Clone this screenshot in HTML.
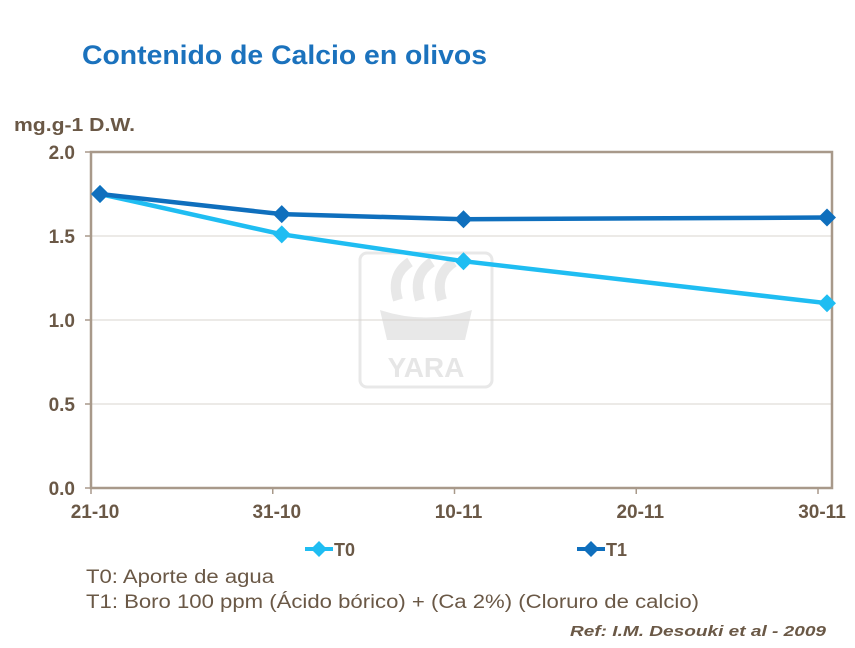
<!DOCTYPE html>
<html><head><meta charset="utf-8"><style>
body{margin:0;width:855px;height:643px;background:#fff;overflow:hidden;font-family:"Liberation Sans",sans-serif;}
</style></head><body>
<svg width="855" height="643">
<text x="82" y="64" font-size="27" font-weight="bold" fill="#1b72bd" textLength="405" lengthAdjust="spacingAndGlyphs">Contenido de Calcio en olivos</text>
<text x="14" y="131" font-size="18" font-weight="bold" fill="#6a5846" textLength="121" lengthAdjust="spacingAndGlyphs">mg.g-1 D.W.</text>
<g opacity="0.9">
<rect x="360" y="253" width="132" height="134" rx="7" fill="none" stroke="#e6e6e6" stroke-width="3"/>
<text x="426" y="377" font-size="28" font-weight="bold" fill="#e4e4e4" text-anchor="middle">YARA</text>
<path d="M380 310 Q426 325 472 310 L465 340 L387 340 Z" fill="#e6e6e6"/>
<path d="M398 300 Q390 275 410 262 M420 300 Q412 275 432 262 M442 300 Q434 275 454 262" stroke="#e6e6e6" stroke-width="10" fill="none"/>
</g>
<g id="grid"></g>
<rect x="91" y="152" width="741" height="336" fill="none" stroke="#a8998a" stroke-width="2.5"/>
<g id="axes"></g>
<g id="series"></g>
<g>
<line x1="305" y1="549" x2="333" y2="549" stroke="#1fbdf2" stroke-width="4"/>
<path d="M319 541 L327 549 L319 557 L311 549 Z" fill="#1fbdf2"/>
<text x="334" y="556" font-size="18" font-weight="bold" fill="#6a5846">T0</text>
<line x1="577" y1="549" x2="605" y2="549" stroke="#0f6fbd" stroke-width="4"/>
<path d="M591 541 L599 549 L591 557 L583 549 Z" fill="#0f6fbd"/>
<text x="606" y="556" font-size="18" font-weight="bold" fill="#6a5846">T1</text>
</g>
<text x="86" y="583" font-size="19" fill="#6a5846" textLength="188" lengthAdjust="spacingAndGlyphs">T0: Aporte de agua</text>
<text x="86" y="608" font-size="19" fill="#6a5846" textLength="613" lengthAdjust="spacingAndGlyphs">T1: Boro 100 ppm (Ácido bórico) + (Ca 2%) (Cloruro de calcio)</text>
<text x="826" y="636" font-size="15" font-weight="bold" font-style="italic" fill="#6a5846" text-anchor="end" textLength="256" lengthAdjust="spacingAndGlyphs">Ref: I.M. Desouki et al - 2009</text>
</svg>
<script>
const categories=["21-10","31-10","10-11","20-11","30-11"];
const t0Values=[1.75,1.51,1.35,null,1.10];
const t1Values=[1.75,1.63,1.60,null,1.61];
const yTicks=[0,0.5,1.0,1.5,2.0];
const NS="http://www.w3.org/2000/svg";
const X=i=>100+i*181.75;
const Y=v=>488-v*168;
function mk(tag,attrs,parent){const e=document.createElementNS(NS,tag);for(const k in attrs)e.setAttribute(k,attrs[k]);parent.appendChild(e);return e;}
const grid=document.getElementById('grid'),axes=document.getElementById('axes'),ser=document.getElementById('series');
yTicks.forEach(t=>{
 if(t>0&&t<2){const g=mk('line',{x1:91,x2:832,y1:Y(t),y2:Y(t),stroke:'#d9d4cf','stroke-width':1},grid);
 
 }
 mk('line',{x1:85,x2:91,y1:Y(t),y2:Y(t),stroke:'#a8998a','stroke-width':1.5},axes);
 const tx=mk('text',{x:75,y:Y(t)+7,'font-size':19,'font-weight':'bold',fill:'#6a5846','text-anchor':'end'},axes);
 tx.textContent=t.toFixed(1);
 
 
});
categories.forEach((c,i)=>{
 const tx=mk('text',{x:X(i)-5,y:518,'font-size':19,'font-weight':'bold',fill:'#6a5846','text-anchor':'middle'},axes);
 tx.textContent=c;
 
 
});
for(let i=0;i<=4;i++){mk('line',{x1:91+i*181.75,x2:91+i*181.75,y1:488,y2:494,stroke:'#a8998a','stroke-width':1.5},axes);}
function draw(vals,color,name){
 const pts=vals.map((v,i)=>v==null?null:[X(i),Y(v)]).filter(p=>p);
 const pl=mk('polyline',{points:pts.map(p=>p.join(',')).join(' '),fill:'none',stroke:color,'stroke-width':4.5},ser);
 
 
 pts.forEach(p=>{const d=mk('path',{d:`M${p[0]} ${p[1]-9} L${p[0]+9} ${p[1]} L${p[0]} ${p[1]+9} L${p[0]-9} ${p[1]} Z`,fill:color},ser);
 
 });
}
draw(t0Values,'#1fbdf2','t0');
draw(t1Values,'#0f6fbd','t1');
</script>
</body></html>
